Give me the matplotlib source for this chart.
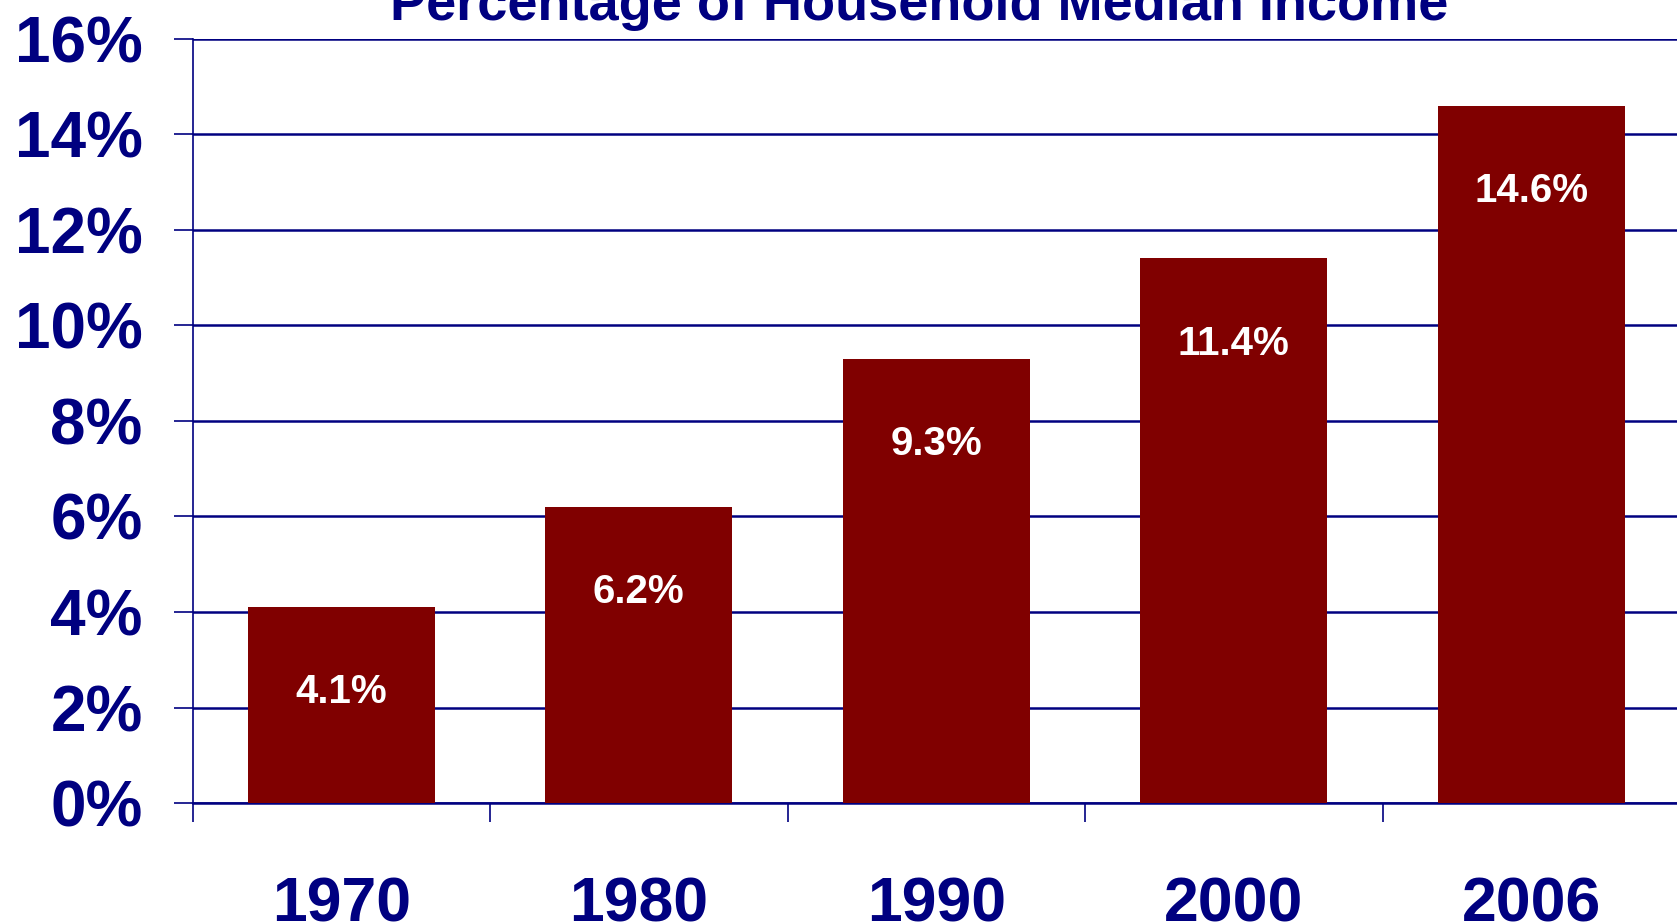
import matplotlib.pyplot as plt
import numpy as np

# data
years = ['1970', '1980', '1990', '2000', '2006']
pct = [4.1, 6.2, 9.3, 11.4, 14.6]
yticks = [0, 2, 4, 6, 8, 10, 12, 14, 16]

navy = '#000080'
maroon = '#800000'
plt.rcParams['font.family'] = ['Liberation Sans', 'DejaVu Sans']
plt.rcParams['font.weight'] = 'bold'

fig = plt.figure(figsize=(16.77, 9.22), dpi=100)
ax = fig.add_axes([0.1148, 0.129, 0.887, 0.829])

x = np.arange(len(years))
ax.bar(x, pct, width=0.63, color=maroon, zorder=3)
for xi, v in zip(x, pct):
    ax.text(xi, v - 1.78, '%.1f%%' % v, ha='center', va='center',
            color='white', fontsize=29, fontweight='bold', zorder=4)

ax.set_xlim(-0.5, len(years) - 0.5)
ax.set_ylim(0, 16)
ax.set_yticks(yticks)
ax.set_yticklabels(['%d%%' % t for t in yticks])
ax.set_xticks(x)
ax.set_xticklabels(years)
ax.set_xticks(np.arange(len(years) + 1) - 0.5, minor=True)
ax.yaxis.grid(True, color=navy, linewidth=1.8, zorder=0)

ax.tick_params(axis='y', colors=navy, labelsize=46, length=14, width=1.2, pad=22)
ax.tick_params(axis='x', which='major', length=0, colors=navy, labelsize=45, pad=52)
ax.tick_params(axis='x', which='minor', length=14, width=1.2, color=navy)
for lab in ax.get_xticklabels() + ax.get_yticklabels():
    lab.set_fontweight('bold')

for s in ['top', 'right']:
    ax.spines[s].set_visible(False)
ax.spines['left'].set_color(navy)
ax.spines['left'].set_linewidth(1.2)
ax.spines['bottom'].set_color(navy)
ax.spines['bottom'].set_linewidth(1.8)

# title sits partly above the top edge, as in the source image
fig.text(0.548, 0.978, 'Percentage of Household Median Income', ha='center',
         va='baseline', fontsize=39, fontweight='bold', color=navy)

fig.savefig('out.png', dpi=100)
